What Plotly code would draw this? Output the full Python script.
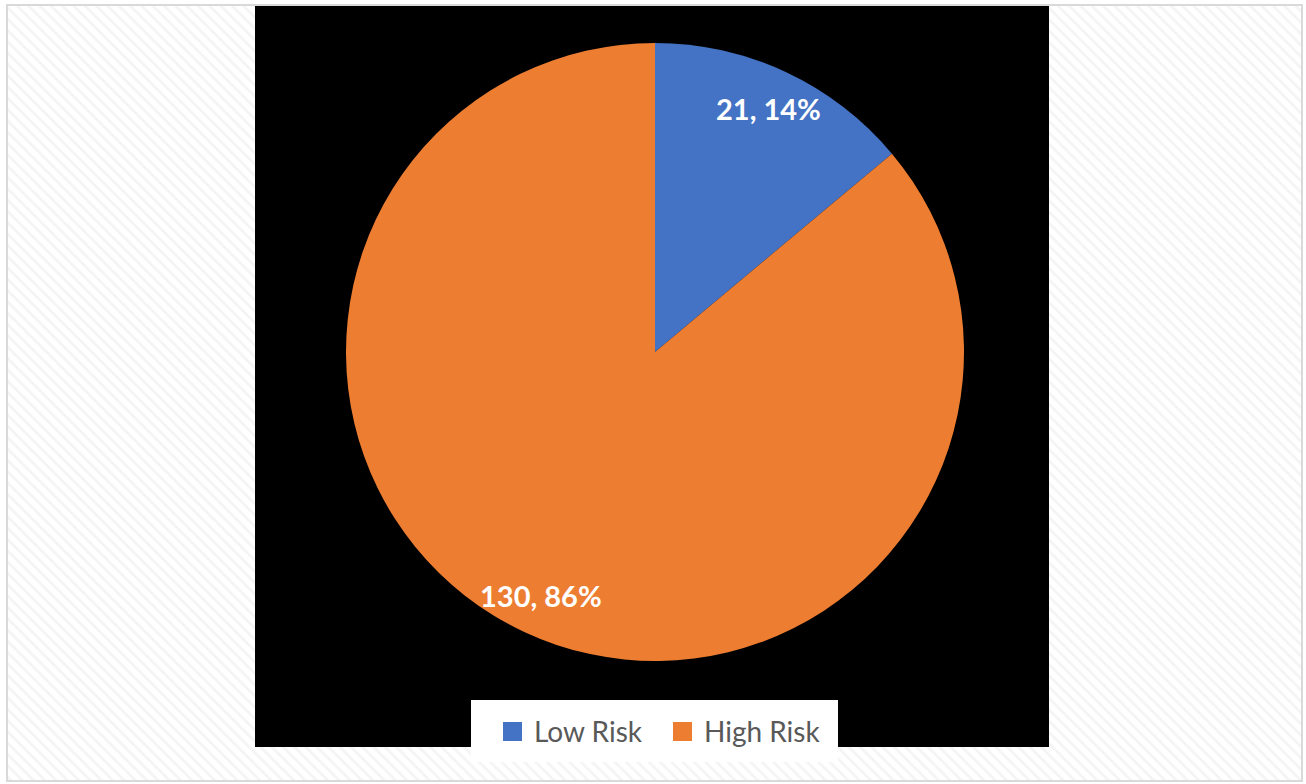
import math
import plotly.graph_objects as go

labels = ["Low Risk", "High Risk"]
values = [21, 130]
colors = ["#4472C4", "#ED7D31"]

W, H = 1306, 784
cx, cy, R = 655, 352, 309

fig = go.Figure()
# hatched chart-area background
fig.add_trace(go.Scatter(
    x=[8, 1301, 1301, 8, 8], y=[6, 6, 780, 780, 6], fill="toself", mode="none",
    fillcolor="white",
    fillpattern=dict(shape="\\", size=8, solidity=0.35, fgcolor="#e9e9e9", bgcolor="white"),
    showlegend=False, hoverinfo="skip"))
# black plot area
fig.add_trace(go.Scatter(
    x=[255, 1049, 1049, 255, 255], y=[6, 6, 747, 747, 6], fill="toself", mode="none",
    fillcolor="black", showlegend=False, hoverinfo="skip"))

fig.add_trace(go.Pie(
    labels=labels, values=values, sort=False, direction="clockwise", rotation=0,
    marker=dict(colors=colors, line=dict(width=0)),
    textinfo="none", showlegend=False,
    domain=dict(x=[(cx - R) / W, (cx + R) / W], y=[1 - (cy + R) / H, 1 - (cy - R) / H]),
))

total = sum(values)
cum = 0
annotations = []
for v in values:
    th = 2 * math.pi * (cum + v / 2) / total
    cum += v
    px = cx + 0.87 * R * math.sin(th)
    py = cy - 0.87 * R * math.cos(th)
    annotations.append(dict(
        x=px / W, y=1 - py / H, xref="paper", yref="paper", showarrow=False,
        xanchor="center", yanchor="middle",
        text=f"{v}, {round(100 * v / total)}%",
        font=dict(family="Lato", size=29, color="white", weight="bold")))

# legend (drawn as box + swatches + labels)
shapes = [
    dict(type="rect", xref="paper", yref="paper",
         x0=7 / W, x1=1302 / W, y0=1 - 781 / H, y1=1 - 5 / H,
         line=dict(color="#d9d9d9", width=2), layer="above"),
    dict(type="rect", xref="paper", yref="paper",
         x0=471 / W, x1=838 / W, y0=1 - 762 / H, y1=1 - 700 / H,
         fillcolor="white", line=dict(width=0), layer="above"),
]
legend_x = [503, 673]
for lab, col, lx in zip(labels, colors, legend_x):
    shapes.append(dict(type="rect", xref="paper", yref="paper",
                       x0=lx / W, x1=(lx + 19) / W, y0=1 - 741 / H, y1=1 - 722 / H,
                       fillcolor=col, line=dict(width=0), layer="above"))
    annotations.append(dict(x=(lx + 29) / W, y=1 - 731 / H, xref="paper", yref="paper",
                            xanchor="left", yanchor="middle", showarrow=False, text=lab,
                            font=dict(family="Lato", size=28, color="#595959")))

fig.update_layout(
    width=W, height=H, margin=dict(l=0, r=0, t=0, b=0),
    paper_bgcolor="white", plot_bgcolor="white",
    xaxis=dict(range=[0, W], visible=False, fixedrange=True),
    yaxis=dict(range=[H, 0], visible=False, fixedrange=True),
    annotations=annotations,
    shapes=shapes,
    showlegend=False,
)

fig.write_html("out.html")
